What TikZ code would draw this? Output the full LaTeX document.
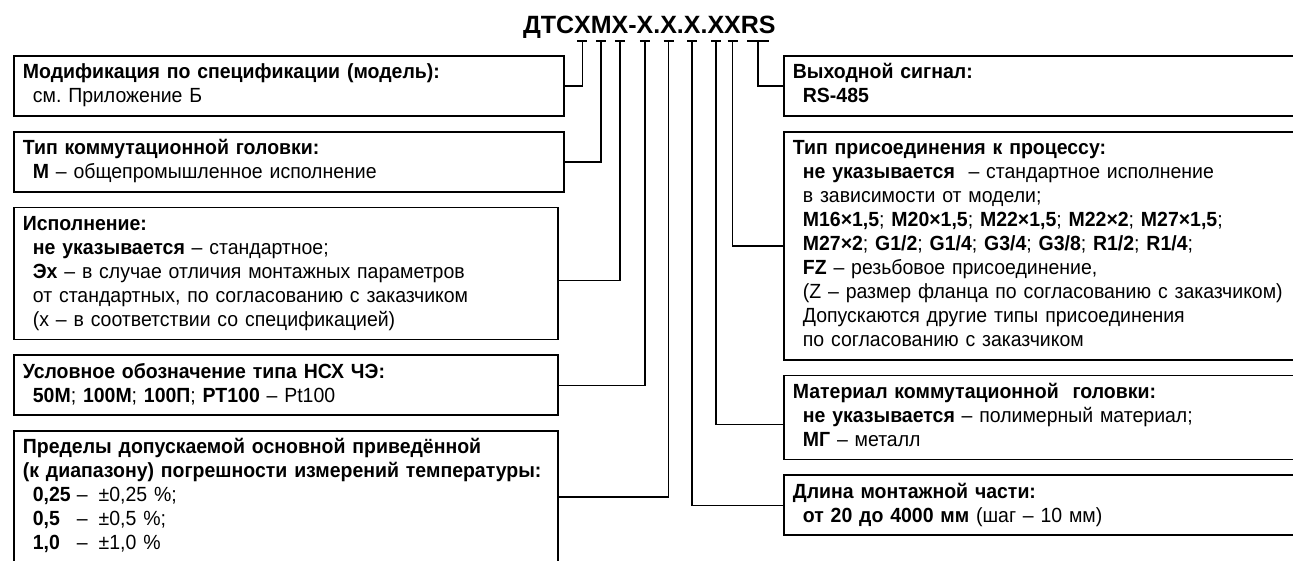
\documentclass[tikz,border=0pt]{standalone}
\usepackage{fontspec}
\setmainfont{Liberation Sans}[FakeStretch=0.95]
\newfontfamily\codefont{Liberation Sans}
\usetikzlibrary{positioning}
\newcommand{\indl}{\hspace*{10pt}}

\begin{document}
\begin{tikzpicture}[x=1pt, y=-1pt,
  code/.style={font=\codefont\bfseries\fontsize{25}{30}\selectfont, inner sep=0pt, outer sep=0pt, anchor=base west},
  box/.style={draw, line width=1.8pt, anchor=north west, align=left, inner xsep=9pt, inner ysep=6pt,
    font=\fontsize{20.5}{24}\selectfont\frenchspacing, execute at begin node=\strut, execute at end node=\strut},
  lbox/.style={box, text width=526pt},
  rbox/.style={box, text width=520pt},
  wire/.style={line width=1.6pt}]
  \useasboundingbox (0,0) rectangle (1293,560);

  % code string, one node per position
  \node[code] (p1) at (523,33) {ДТС};
  \foreach \ch [count=\i from 2, remember=\i as \j (initially 1)] in {Х,М,Х,-,Х,.,Х,.,Х,.,Х,Х,RS}
    \node[code] (p\i) at (p\j.base east) {\ch};
  \foreach \i/\w in {2/5,3/5,4/5,6/5,8/5,10/5,12/5,13/5,14/11} {
    \coordinate (m\i) at ([yshift=-8pt]p\i.base);
    \draw[wire] ([xshift=-\w pt]m\i) -- ([xshift=\w pt]m\i);
  }

  % left column
  \node[box, text width=532pt] (mod) at (13,55)
    {\textbf{Модификация по спецификации (модель):}\\
     \indl см. Приложение Б};
  \node[box, text width=532pt, below=14pt of mod.south west, anchor=north west] (head)
    {\textbf{Тип коммутационной головки:}\\
     \indl\textbf{М} – общепромышленное исполнение};
  \node[lbox, below=14pt of head.south west, anchor=north west] (exec)
    {\textbf{Исполнение:}\\
     \indl\textbf{не указывается} – стандартное;\\
     \indl\textbf{Эх} – в случае отличия монтажных параметров\\
     \indl от стандартных, по согласованию с заказчиком\\
     \indl(х – в соответствии со спецификацией)};
  \node[lbox, below=14pt of exec.south west, anchor=north west] (nsx)
    {\textbf{Условное обозначение типа НСХ ЧЭ:}\\
     \indl\textbf{50М}; \textbf{100М}; \textbf{100П}; \textbf{РТ100} – Pt100};
  \node[lbox, below=14pt of nsx.south west, anchor=north west] (acc)
    {\textbf{Пределы допускаемой основной приведённой}\\
     \textbf{(к диапазону) погрешности измерений температуры:}\\
     \indl\makebox[44pt][l]{\textbf{0,25}}–\hspace{11pt}±0,25 \%;\\
     \indl\makebox[44pt][l]{\textbf{0,5}}–\hspace{11pt}±0,5 \%;\\
     \indl\makebox[44pt][l]{\textbf{1,0}}–\hspace{11pt}±1,0 \%};

  % right column
  \node[rbox] (out) at (783,55)
    {\textbf{Выходной сигнал:}\\
     \indl\textbf{RS-485}};
  \node[rbox, below=14pt of out.south west, anchor=north west] (conn)
    {\textbf{Тип присоединения к процессу:}\\
     \indl\textbf{не указывается}\ \ – стандартное исполнение\\
     \indl в зависимости от модели;\\
     \indl\textbf{M16×1,5}; \textbf{M20×1,5}; \textbf{M22×1,5}; \textbf{M22×2}; \textbf{M27×1,5};\\
     \indl\textbf{M27×2}; \textbf{G1/2}; \textbf{G1/4}; \textbf{G3/4}; \textbf{G3/8}; \textbf{R1/2}; \textbf{R1/4};\\
     \indl\textbf{FZ} – резьбовое присоединение,\\
     \indl(Z – размер фланца по согласованию с заказчиком)\\
     \indl Допускаются другие типы присоединения\\
     \indl по согласованию с заказчиком};
  \node[rbox, below=14pt of conn.south west, anchor=north west] (mat)
    {\textbf{Материал коммутационной\ \ головки:}\\
     \indl\textbf{не указывается} – полимерный материал;\\
     \indl\textbf{МГ} – металл};
  \node[rbox, below=14pt of mat.south west, anchor=north west] (len)
    {\textbf{Длина монтажной части:}\\
     \indl\textbf{от 20 до 4000 мм} (шаг – 10 мм)};

  % leaders from the code string
  \draw[wire] (m2) |- (mod.east);
  \draw[wire] (m3) |- (head.east);
  \draw[wire] (m4) |- ([yshift=-7pt]exec.east);
  \draw[wire] (m6) |- (nsx.east);
  \draw[wire] (m8) |- (acc.east);
  \draw[wire] (m14) |- (out.west);
  \draw[wire] (m13) |- (conn.west);
  \draw[wire] (m12) |- ([yshift=-7pt]mat.west);
  \draw[wire] (m10) |- (len.west);
\end{tikzpicture}
\end{document}
